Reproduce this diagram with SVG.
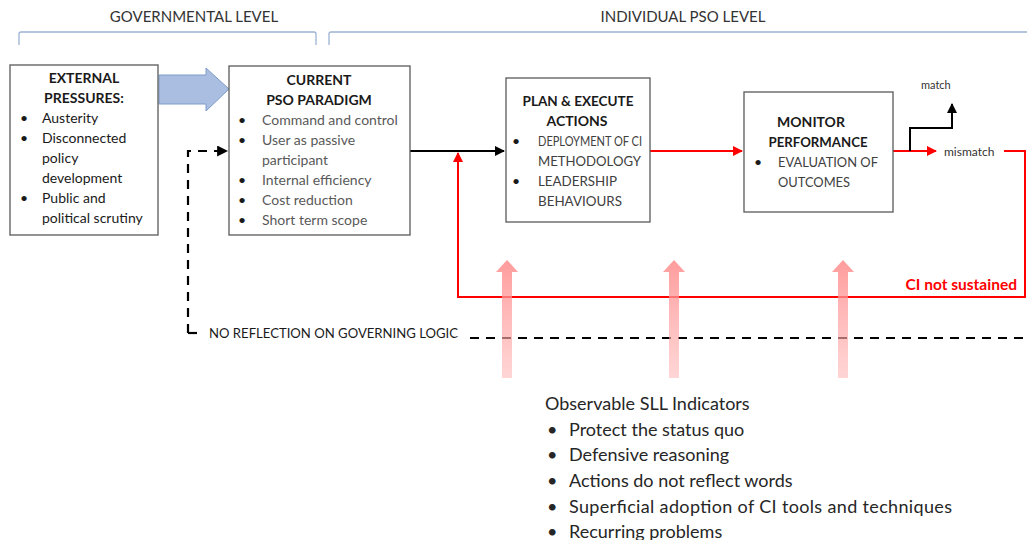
<svg xmlns="http://www.w3.org/2000/svg" width="1027" height="540" viewBox="0 0 1027 540">
<style>
text{font-family:Lato,"Liberation Sans",sans-serif;}
.hdr{font-size:15px;fill:#333;text-anchor:middle;}
.box{fill:#fff;stroke:#595959;stroke-width:1.3;}
.t{font-size:14px;fill:#1a1a1a;}
.tb{font-size:14px;font-weight:bold;fill:#1a1a1a;text-anchor:middle;}
.g{font-size:14px;fill:#595959;}
.c{font-size:14px;fill:#404040;}
.bl{font-size:14px;fill:#1a1a1a;}
.brk{fill:none;stroke:#9db3d4;stroke-width:1.3;}
.blk{fill:none;stroke:#000;stroke-width:2;}
.red{fill:none;stroke:#ff0000;stroke-width:2;}
.dash{fill:none;stroke:#000;stroke-width:2.2;stroke-dasharray:9,7;}
.ind{font-size:18px;fill:#262626;}
</style>
<defs>
<marker id="ab" viewBox="0 0 10 10" refX="9" refY="5" markerWidth="5" markerHeight="5" orient="auto"><path d="M0,0 L10,5 L0,10 z" fill="#000"/></marker>
<marker id="ar" viewBox="0 0 10 10" refX="9" refY="5" markerWidth="5" markerHeight="5" orient="auto"><path d="M0,0 L10,5 L0,10 z" fill="#ff0000"/></marker>
<linearGradient id="pg" x1="0" y1="0" x2="0" y2="1">
<stop offset="0" stop-color="#ff8a8a" stop-opacity="0.85"/>
<stop offset="1" stop-color="#ffb3b3" stop-opacity="0.55"/>
</linearGradient>
<path id="pk" d="M-5,12 L-11,12 L0,0 L11,12 L5,12 L5,118 L-5,118 z" fill="url(#pg)"/>
</defs>

<text class="hdr" x="194" y="22">GOVERNMENTAL LEVEL</text>
<text class="hdr" x="683" y="22">INDIVIDUAL PSO LEVEL</text>
<path class="brk" d="M19,45 L19,34 Q19,32 21,32 L314,32 Q316,32 316,34 L316,45"/>
<path class="brk" d="M329,45 L329,34 Q329,32 331,32 L1030,32"/>

<g id="connectors">
<path d="M159,75 L206,75 L206,68 L229,89 L206,111 L206,104 L159,104 z" fill="#a9bee0" stroke="#7f9cc9" stroke-width="1"/>
<path class="blk" d="M410,151 L504,151" marker-end="url(#ab)"/>
<path class="red" d="M650,151 L742,151" marker-end="url(#ar)"/>
<path class="red" d="M893,151 L936,151" marker-end="url(#ar)"/>
<path class="red" d="M1004,151 L1025,151 L1025,297 L458,297 L458,153" marker-end="url(#ar)"/>
<path class="blk" d="M910,151 L910,128 L952,128 L952,104" marker-end="url(#ab)"/>
<path class="dash" d="M188,333 L188,151 L227,151" marker-end="url(#ab)"/>
<path d="M188,333 L197,333" stroke="#000" stroke-width="2.2" fill="none"/>
<path class="dash" d="M470,338 L1027,338"/>
</g>

<g id="external">
<rect class="box" x="10" y="65" width="148" height="170"/>
<text class="tb" x="84" y="83">EXTERNAL</text>
<text class="tb" x="84" y="103">PRESSURES:</text>
<text class="bl" x="20" y="123">•</text><text class="t" x="42" y="123">Austerity</text>
<text class="bl" x="20" y="143">•</text><text class="t" x="42" y="143">Disconnected</text>
<text class="t" x="42" y="163">policy</text>
<text class="t" x="42" y="183">development</text>
<text class="bl" x="20" y="203">•</text><text class="t" x="42" y="203">Public and</text>
<text class="t" x="42" y="223">political scrutiny</text>
</g>

<g id="paradigm">
<rect class="box" x="229" y="66" width="181" height="169"/>
<text class="tb" x="319" y="85">CURRENT</text>
<text class="tb" x="319" y="105">PSO PARADIGM</text>
<text class="bl" x="238" y="125">•</text><text class="g" x="262" y="125">Command and control</text>
<text class="bl" x="238" y="145">•</text><text class="g" x="262" y="145">User as passive</text>
<text class="g" x="262" y="165">participant</text>
<text class="bl" x="238" y="185">•</text><text class="g" x="262" y="185">Internal efficiency</text>
<text class="bl" x="238" y="205">•</text><text class="g" x="262" y="205">Cost reduction</text>
<text class="bl" x="238" y="225">•</text><text class="g" x="262" y="225">Short term scope</text>
</g>

<g id="plan">
<rect class="box" x="506" y="78" width="144" height="144"/>
<text class="tb" x="578" y="106" textLength="111" lengthAdjust="spacingAndGlyphs">PLAN &amp; EXECUTE</text>
<text class="tb" x="577" y="126">ACTIONS</text>
<text class="bl" x="512" y="146">•</text><text class="c" x="538" y="146" textLength="104" lengthAdjust="spacingAndGlyphs">DEPLOYMENT OF CI</text>
<text class="c" x="538" y="166" textLength="103" lengthAdjust="spacingAndGlyphs">METHODOLOGY</text>
<text class="bl" x="512" y="186">•</text><text class="c" x="538" y="186" textLength="79" lengthAdjust="spacingAndGlyphs">LEADERSHIP</text>
<text class="c" x="538" y="206" textLength="84" lengthAdjust="spacingAndGlyphs">BEHAVIOURS</text>
</g>

<g id="monitor">
<rect class="box" x="744" y="92" width="149" height="120"/>
<text class="tb" x="811" y="127">MONITOR</text>
<text class="tb" x="818" y="147" textLength="99" lengthAdjust="spacingAndGlyphs">PERFORMANCE</text>
<text class="bl" x="754" y="167">•</text><text class="c" x="778" y="167" textLength="100" lengthAdjust="spacingAndGlyphs">EVALUATION OF</text>
<text class="c" x="778" y="187" textLength="72" lengthAdjust="spacingAndGlyphs">OUTCOMES</text>
</g>

<text x="921" y="89" style="font-size:11px;fill:#333">match</text>
<text x="944" y="156" style="font-size:12px;fill:#333">mismatch</text>
<text x="1017" y="290" style="font-size:15.5px;font-weight:bold;fill:#ff0000;text-anchor:end">CI not sustained</text>
<text x="209" y="338" style="font-size:14px;fill:#1a1a1a" textLength="249" lengthAdjust="spacingAndGlyphs">NO REFLECTION ON GOVERNING LOGIC</text>

<g id="pink-arrows">
<use href="#pk" x="507" y="260"/>
<use href="#pk" x="674" y="260"/>
<use href="#pk" x="843" y="260"/>
</g>

<g id="indicators">
<text class="ind" x="545" y="410">Observable SLL Indicators</text>
<text class="ind" x="547" y="436">•</text><text class="ind" x="569" y="436">Protect the status quo</text>
<text class="ind" x="547" y="461">•</text><text class="ind" x="569" y="461">Defensive reasoning</text>
<text class="ind" x="547" y="487">•</text><text class="ind" x="569" y="487">Actions do not reflect words</text>
<text class="ind" x="547" y="513">•</text><text class="ind" x="569" y="513" textLength="383">Superficial adoption of CI  tools and techniques</text>
<text class="ind" x="547" y="538">•</text><text class="ind" x="569" y="538">Recurring problems</text>
</g>
</svg>
